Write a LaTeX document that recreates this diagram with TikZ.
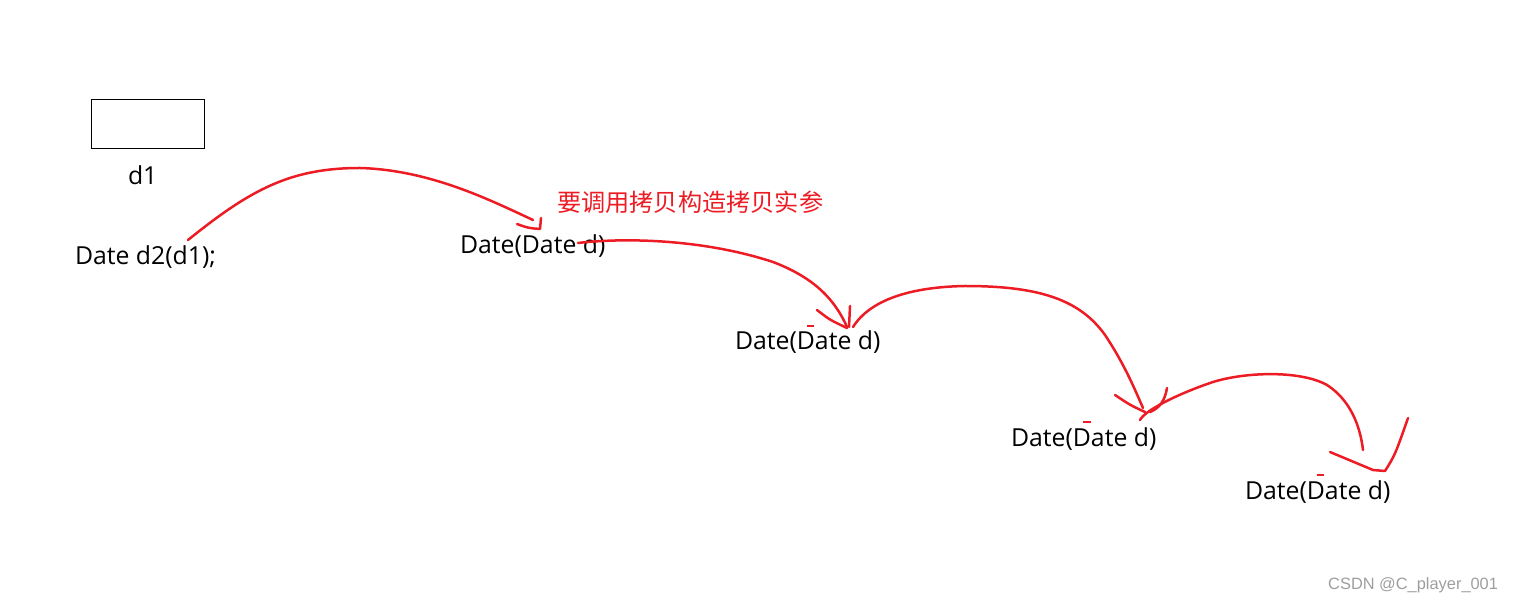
\documentclass[tikz,border=0pt]{standalone}
\usepackage{fontspec}
\setmainfont{Open Sans}
\newfontfamily\cjk{Noto Sans CJK SC}
\newfontfamily\marksans{Liberation Sans}
\usepackage{tikz}
\usetikzlibrary{positioning,calc}
\definecolor{penred}{RGB}{237,28,36}
\tikzset{pen/.style={draw=penred, line width=1.25pt, line cap=round, line join=round}}

\begin{document}
\begin{tikzpicture}[x=0.5pt, y=-0.5pt, every node/.style={inner sep=0pt, outer sep=0pt}, codetext/.style={anchor=base west, font=\fontsize{12.4}{15}\selectfont}]
    \useasboundingbox (0,0) rectangle (1513,603);
    \node[draw, line width=0.5pt, minimum width=56.5pt, minimum height=24.5pt] (obj) at (147.5,124.5) {};
    \node[codetext] (name) at (128,185) {d1};
    \node[codetext] (call) at (75,265) {Date d2(d1);};
    \node[codetext] (copy1) at (460,254) {Date(Date d)};
    \node[codetext] (copy2) at (735,350) {Date(Date d)};
    \node[codetext] (copy3) at (1011,446) {Date(Date d)};
    \node[codetext] (copy4) at (1245,499) {Date(Date d)};
    \node[anchor=west, text=penred, font=\cjk\fontsize{12.1}{15}\selectfont] (note) at (557,202) {要调用拷贝构造拷贝实参};
    \node[anchor=base east, text=black!38, font=\marksans\fontsize{8.2}{10}\selectfont] (mark) at (1498,589) {CSDN @C\_player\_001};

    % ends of the strokes
    \coordinate (s1) at (188,240);
    \coordinate (e1) at (533,220);
    \coordinate (s2) at (578,243);
    \coordinate (e2) at (847,327);
    \coordinate (s3) at (853,327);
    \coordinate (e3) at (1143,408);
    \coordinate (s4) at (1140,420);
    \coordinate (e4) at (1363,450);

    \draw[pen] (s1) .. controls (250,190) and (290,168) .. (360,168) .. controls (430,170) and (490,200) .. (e1);
    \draw[pen] (517,224) .. controls (528,228) .. (540,229) -- (541,218);

    \draw[pen] (s2) .. controls (620,238) and (700,238) .. (773,262) .. controls (815,278) and (835,300) .. (e2);
    \draw[pen] (817,310) .. controls (830,320) .. (847,328);
    \draw[pen] (850,306) -- (849,327);

    \draw[pen] (s3) .. controls (870,300) and (910,287) .. (965,286) .. controls (1040,286) and (1080,300) .. (1105,335) .. controls (1125,365) and (1135,390) .. (e3);
    \draw[pen] (1115,395) .. controls (1130,405) .. (1145,412);
    \draw[pen] (1167,388) .. controls (1165,400) and (1160,408) .. (1150,412);

    \draw[pen] (s4) .. controls (1145,410) and (1180,393) .. (1213,382) .. controls (1245,372) and (1300,370) .. (1327,385) .. controls (1350,400) and (1360,425) .. (e4);
    \draw[pen] (1330,452) -- (1373,470) -- (1385,471) .. controls (1395,455) .. (1408,418);

    % stray marks
    \draw[penred, line width=0.6pt] (807,326) -- (814,326);
    \draw[penred, line width=0.6pt] (1083,422) -- (1091,422);
    \draw[penred, line width=0.6pt] (1317,475) -- (1324,475);
\end{tikzpicture}
\end{document}
